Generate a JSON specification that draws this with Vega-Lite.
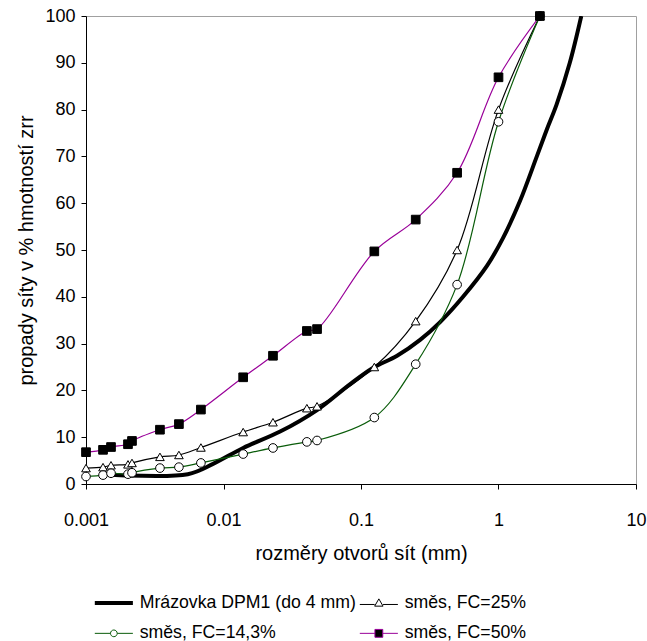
{
  "$schema": "https://vega.github.io/schema/vega-lite/v6.json",
  "width": 550,
  "height": 468,
  "autosize": {"type": "none"},
  "padding": {"left": 86, "top": 16, "right": 11, "bottom": 157},
  "background": "white",
  "config": {
    "view": {"stroke": "#a0a0a0", "strokeWidth": 1},
    "font": "Liberation Sans",
    "axis": {
      "grid": false,
      "domainColor": "black",
      "tickColor": "black",
      "tickSize": 5,
      "labelColor": "black",
      "titleColor": "black",
      "labelFont": "Liberation Sans",
      "titleFont": "Liberation Sans",
      "titleFontWeight": "normal",
      "labelFontSize": 18,
      "titleFontSize": 20
    },
    "legend": {
      "labelFont": "Liberation Sans",
      "labelFontSize": 17.7,
      "labelColor": "black"
    }
  },
  "data": {
    "values": [
      {"series": "Mrázovka DPM1 (do 4 mm)", "d": 0.0015, "p": 2.0},
      {"series": "Mrázovka DPM1 (do 4 mm)", "d": 0.0055, "p": 2.1},
      {"series": "Mrázovka DPM1 (do 4 mm)", "d": 0.0084, "p": 4.3},
      {"series": "Mrázovka DPM1 (do 4 mm)", "d": 0.0139, "p": 7.7},
      {"series": "Mrázovka DPM1 (do 4 mm)", "d": 0.0258, "p": 11.2},
      {"series": "Mrázovka DPM1 (do 4 mm)", "d": 0.0479, "p": 15.8},
      {"series": "Mrázovka DPM1 (do 4 mm)", "d": 0.083, "p": 21.3},
      {"series": "Mrázovka DPM1 (do 4 mm)", "d": 0.122, "p": 24.8},
      {"series": "Mrázovka DPM1 (do 4 mm)", "d": 0.183, "p": 27.4},
      {"series": "Mrázovka DPM1 (do 4 mm)", "d": 0.269, "p": 30.8},
      {"series": "Mrázovka DPM1 (do 4 mm)", "d": 0.376, "p": 34.6},
      {"series": "Mrázovka DPM1 (do 4 mm)", "d": 0.552, "p": 40.0},
      {"series": "Mrázovka DPM1 (do 4 mm)", "d": 0.824, "p": 46.6},
      {"series": "Mrázovka DPM1 (do 4 mm)", "d": 1.08, "p": 52.6},
      {"series": "Mrázovka DPM1 (do 4 mm)", "d": 1.43, "p": 60.4},
      {"series": "Mrázovka DPM1 (do 4 mm)", "d": 1.9, "p": 70.0},
      {"series": "Mrázovka DPM1 (do 4 mm)", "d": 2.25, "p": 75.8},
      {"series": "Mrázovka DPM1 (do 4 mm)", "d": 2.64, "p": 81.0},
      {"series": "Mrázovka DPM1 (do 4 mm)", "d": 3.3, "p": 90.0},
      {"series": "Mrázovka DPM1 (do 4 mm)", "d": 4.0, "p": 100.0},

      {"series": "směs, FC=25%", "d": 0.001, "p": 3.4},
      {"series": "směs, FC=25%", "d": 0.00133, "p": 3.6},
      {"series": "směs, FC=25%", "d": 0.00152, "p": 4.0},
      {"series": "směs, FC=25%", "d": 0.00202, "p": 4.2},
      {"series": "směs, FC=25%", "d": 0.00216, "p": 4.5},
      {"series": "směs, FC=25%", "d": 0.00345, "p": 5.8},
      {"series": "směs, FC=25%", "d": 0.00474, "p": 6.2},
      {"series": "směs, FC=25%", "d": 0.00685, "p": 7.8},
      {"series": "směs, FC=25%", "d": 0.0139, "p": 11.1},
      {"series": "směs, FC=25%", "d": 0.0229, "p": 13.2},
      {"series": "směs, FC=25%", "d": 0.0404, "p": 16.2},
      {"series": "směs, FC=25%", "d": 0.0479, "p": 16.6},
      {"series": "směs, FC=25%", "d": 0.125, "p": 25.0},
      {"series": "směs, FC=25%", "d": 0.25, "p": 34.8},
      {"series": "směs, FC=25%", "d": 0.5, "p": 50.0},
      {"series": "směs, FC=25%", "d": 1.0, "p": 80.0},
      {"series": "směs, FC=25%", "d": 2.0, "p": 100.0},

      {"series": "směs, FC=14,3%", "d": 0.001, "p": 1.6},
      {"series": "směs, FC=14,3%", "d": 0.00133, "p": 1.9},
      {"series": "směs, FC=14,3%", "d": 0.00152, "p": 2.3},
      {"series": "směs, FC=14,3%", "d": 0.00202, "p": 2.1},
      {"series": "směs, FC=14,3%", "d": 0.00216, "p": 2.4},
      {"series": "směs, FC=14,3%", "d": 0.00345, "p": 3.4},
      {"series": "směs, FC=14,3%", "d": 0.00474, "p": 3.6},
      {"series": "směs, FC=14,3%", "d": 0.00685, "p": 4.5},
      {"series": "směs, FC=14,3%", "d": 0.0139, "p": 6.4},
      {"series": "směs, FC=14,3%", "d": 0.0229, "p": 7.7},
      {"series": "směs, FC=14,3%", "d": 0.0404, "p": 9.0},
      {"series": "směs, FC=14,3%", "d": 0.0479, "p": 9.3},
      {"series": "směs, FC=14,3%", "d": 0.125, "p": 14.2},
      {"series": "směs, FC=14,3%", "d": 0.25, "p": 25.6},
      {"series": "směs, FC=14,3%", "d": 0.5, "p": 42.6},
      {"series": "směs, FC=14,3%", "d": 1.0, "p": 77.4},
      {"series": "směs, FC=14,3%", "d": 2.0, "p": 100.0},

      {"series": "směs, FC=50%", "d": 0.001, "p": 6.8},
      {"series": "směs, FC=50%", "d": 0.00133, "p": 7.3},
      {"series": "směs, FC=50%", "d": 0.00152, "p": 7.9},
      {"series": "směs, FC=50%", "d": 0.00202, "p": 8.5},
      {"series": "směs, FC=50%", "d": 0.00216, "p": 9.2},
      {"series": "směs, FC=50%", "d": 0.00345, "p": 11.6},
      {"series": "směs, FC=50%", "d": 0.00474, "p": 12.8},
      {"series": "směs, FC=50%", "d": 0.00685, "p": 15.9},
      {"series": "směs, FC=50%", "d": 0.0139, "p": 22.8},
      {"series": "směs, FC=50%", "d": 0.0229, "p": 27.4},
      {"series": "směs, FC=50%", "d": 0.0404, "p": 32.7},
      {"series": "směs, FC=50%", "d": 0.0479, "p": 33.1},
      {"series": "směs, FC=50%", "d": 0.125, "p": 49.7},
      {"series": "směs, FC=50%", "d": 0.25, "p": 56.5},
      {"series": "směs, FC=50%", "d": 0.5, "p": 66.5},
      {"series": "směs, FC=50%", "d": 1.0, "p": 86.9},
      {"series": "směs, FC=50%", "d": 2.0, "p": 100.0}
    ]
  },
  "encoding": {
    "x": {
      "field": "d", "type": "quantitative",
      "scale": {"type": "log", "domain": [0.001, 10], "nice": false},
      "axis": {
        "values": [0.001, 0.01, 0.1, 1, 10],
        "format": "~g",
        "title": "rozměry otvorů sít (mm)",
        "labelPadding": 22,
        "titlePadding": 14,
        "labelFlush": false
      }
    },
    "y": {
      "field": "p", "type": "quantitative",
      "scale": {"domain": [0, 100], "nice": false},
      "axis": {
        "values": [0, 10, 20, 30, 40, 50, 60, 70, 80, 90, 100],
        "title": "propady síty v % hmotností zrr",
        "labelPadding": 6,
        "titlePadding": 8
      }
    },
    "stroke": {
      "field": "series", "type": "nominal",
      "scale": {
        "domain": ["Mrázovka DPM1 (do 4 mm)", "směs, FC=25%", "směs, FC=14,3%", "směs, FC=50%"],
        "range": ["black", "black", "#0a5c0a", "#990099"]
      },
      "legend": {
        "title": null,
        "orient": "none",
        "direction": "horizontal",
        "legendX": 19,
        "legendY": 578,
        "columns": 2,
        "columnPadding": 1,
        "rowPadding": 11.5,
        "padding": 0,
        "symbolSize": 784,
        "labelOffset": 17,
        "labelLimit": 400,
        "labelFontSize": 17.7,
        "encode": {
          "symbols": {
            "update": {
              "shape": {"signal": "datum.value === 'Mrázovka DPM1 (do 4 mm)' ? 'M-1.36,0H1.36' : datum.value === 'směs, FC=25%' ? 'M-1.36,0.1H-0.3M0.3,0.1H1.36M0,-0.3L0.3,0.22L-0.3,0.22Z' : datum.value === 'směs, FC=14,3%' ? 'M-1.36,0H-0.24M0.24,0H1.36M-0.24,0A0.24,0.24 0 1,0 0.24,0A0.24,0.24 0 1,0 -0.24,0Z' : 'M-1.36,0H-0.28M0.28,0H1.36M-0.28,-0.28H0.28V0.28H-0.28Z'"},
              "fill": {"signal": "datum.value === 'směs, FC=50%' ? 'black' : 'white'"},
              "strokeWidth": {"signal": "datum.value === 'Mrázovka DPM1 (do 4 mm)' ? 4 : 1"},
              "opacity": {"value": 1}
            }
          }
        }
      }
    }
  },
  "layer": [
    {
      "transform": [{"filter": "datum.series === 'Mrázovka DPM1 (do 4 mm)'"}],
      "mark": {"type": "line", "interpolate": "catmull-rom", "strokeWidth": 4, "clip": true}
    },
    {
      "transform": [{"filter": "datum.series !== 'Mrázovka DPM1 (do 4 mm)'"}],
      "mark": {"type": "line", "interpolate": "catmull-rom", "strokeWidth": 1.2, "clip": true}
    },
    {
      "transform": [{"filter": "datum.series !== 'Mrázovka DPM1 (do 4 mm)'"}],
      "mark": {"type": "point", "filled": true, "strokeWidth": 1, "size": 75, "opacity": 1},
      "encoding": {
        "stroke": {"value": "black"},
        "shape": {
          "field": "series", "type": "nominal",
          "scale": {
            "domain": ["směs, FC=25%", "směs, FC=14,3%", "směs, FC=50%"],
            "range": ["triangle-up", "circle", "square"]
          },
          "legend": null
        },
        "fill": {
          "condition": {"test": "datum.series === 'směs, FC=50%'", "value": "black"},
          "value": "white"
        }
      }
    }
  ]
}
